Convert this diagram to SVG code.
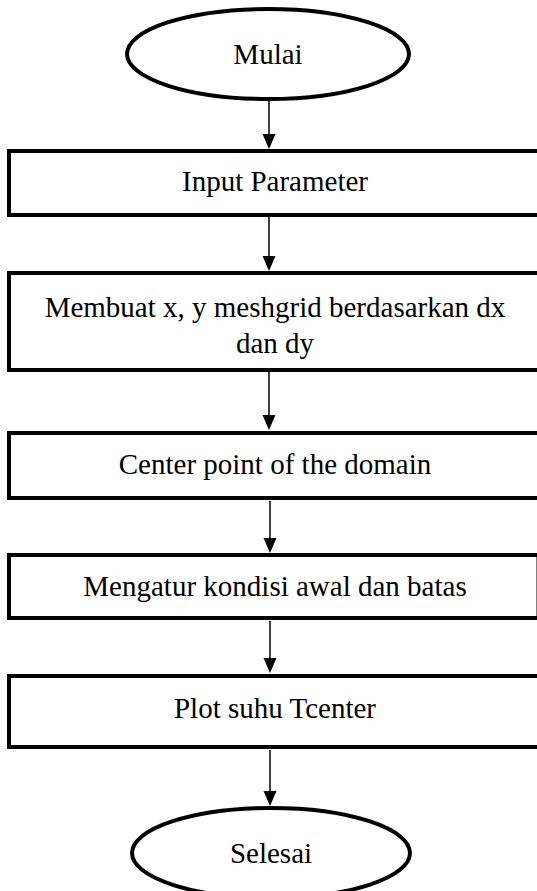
<svg xmlns="http://www.w3.org/2000/svg" width="537" height="891" viewBox="0 0 537 891">
<style>
.shape{fill:#fff;stroke:#000;stroke-width:4}
.lbl{font-family:'Liberation Serif','Times New Roman',Tinos,'DejaVu Serif',serif;font-size:29px;fill:#000;text-anchor:middle}
.conn{stroke:#000;stroke-width:1.5;fill:none}
.head{fill:#000}
</style>
<rect width="537" height="891" fill="#fff"/>
<g id="connectors">
<line class="conn" x1="269" y1="100" x2="269" y2="140"/>
<line class="conn" x1="269" y1="217" x2="269" y2="262"/>
<line class="conn" x1="269" y1="372" x2="269" y2="421"/>
<line class="conn" x1="270" y1="501" x2="270" y2="544"/>
<line class="conn" x1="270" y1="621" x2="270" y2="664"/>
<line class="conn" x1="270" y1="750" x2="270" y2="797"/>
<path class="head" d="M262.5,134 L275.5,134 L269,149 Z"/>
<path class="head" d="M262.5,256 L275.5,256 L269,271 Z"/>
<path class="head" d="M262.5,415 L275.5,415 L269,430 Z"/>
<path class="head" d="M263.5,538 L276.5,538 L270,553 Z"/>
<path class="head" d="M263.5,658 L276.5,658 L270,673 Z"/>
<path class="head" d="M263.5,791 L276.5,791 L270,806 Z"/>
</g>
<g id="mulai">
<ellipse class="shape" cx="268" cy="54" rx="141" ry="45"/>
<text class="lbl" x="268" y="64" font-family="Liberation Serif, serif">Mulai</text>
</g>
<g id="input">
<rect class="shape" x="9" y="151" width="534" height="64"/>
<text class="lbl" x="275" y="191" font-family="Liberation Serif, serif">Input Parameter</text>
</g>
<g id="meshgrid">
<rect class="shape" x="9" y="273" width="534" height="97"/>
<text class="lbl" x="275" y="317" font-family="Liberation Serif, serif">Membuat x, y meshgrid berdasarkan dx</text>
<text class="lbl" x="275" y="353" font-family="Liberation Serif, serif">dan dy</text>
</g>
<g id="center">
<rect class="shape" x="9" y="433" width="534" height="65"/>
<text class="lbl" x="275" y="474" font-family="Liberation Serif, serif">Center point of the domain</text>
</g>
<g id="kondisi">
<rect class="shape" x="9" y="555" width="529.5" height="63"/>
<text class="lbl" x="275" y="596" font-family="Liberation Serif, serif">Mengatur kondisi awal dan batas</text>
</g>
<g id="plot">
<rect class="shape" x="9" y="676" width="534" height="71"/>
<text class="lbl" x="275" y="718" font-family="Liberation Serif, serif">Plot suhu Tcenter</text>
</g>
<g id="selesai">
<ellipse class="shape" cx="271" cy="853" rx="139" ry="45"/>
<text class="lbl" x="271" y="863" font-family="Liberation Serif, serif">Selesai</text>
</g>
</svg>
